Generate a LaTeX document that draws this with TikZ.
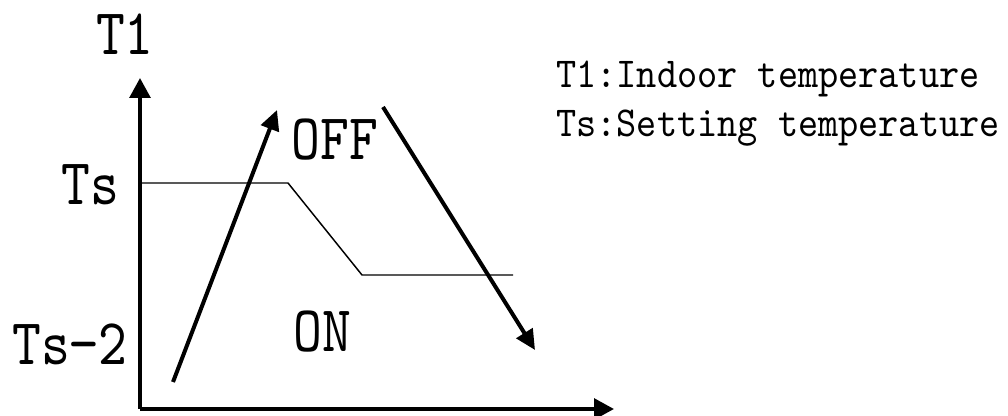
\documentclass[tikz,border=0pt]{standalone}
\usepackage{fontspec}
\usetikzlibrary{arrows.meta}
\newfontfamily\songf{lmmono10-regular.otf}[FakeStretch=0.84]
\newfontfamily\legf{lmmono10-regular.otf}[FakeStretch=0.9]
\tikzset{
  axis/.style={line width=3pt,-{Triangle[length=15pt,width=15.5pt]}},
  trend/.style={line width=3pt,-{Triangle[length=15pt,width=14pt]}},
  bound/.style={line width=1.1pt},
  biglbl/.style={inner sep=0pt,anchor=base,font=\songf\fontsize{49pt}{56pt}\selectfont},
  leglbl/.style={inner sep=0pt,anchor=base west,font=\legf\fontsize{32pt}{38pt}\selectfont}
}
\begin{document}
\begin{tikzpicture}[x=0.75pt,y=-0.75pt]
\useasboundingbox (0,0) rectangle (1008,416);
% axes
\coordinate (O) at (140,409);
\coordinate (ytip) at (140,78);
\coordinate (xtip) at (614,409);
\draw[axis] (O) -- (ytip);
\draw[axis] (O) -- (xtip);
% boundary line
\coordinate (b1) at (140,183);
\coordinate (b2) at (288,183);
\coordinate (b3) at (362,275);
\coordinate (b4) at (513,275);
\draw[bound] (b1) -- (b2) -- (b3) -- (b4);
% trend arrows
\coordinate (u1) at (173,382);
\coordinate (u2) at (277,110);
\draw[trend] (u1) -- (u2);
\coordinate (d1) at (383,107);
\coordinate (d2) at (535,350);
\draw[trend] (d1) -- (d2);
% labels
\node[biglbl] (t1) at (125,55) {T1};
\node[biglbl] (ts) at (90,205) {Ts};
\node[biglbl] (ts2) at (70,365) {Ts−2};
\node[biglbl] (off) at (335,160) {OFF};
\node[biglbl] (on) at (322,352) {ON};
\node[leglbl] (leg1) at (556,88) {T1:Indoor temperature};
\node[leglbl] (leg2) at (556,137) {Ts:Setting temperature};
\end{tikzpicture}
\end{document}
